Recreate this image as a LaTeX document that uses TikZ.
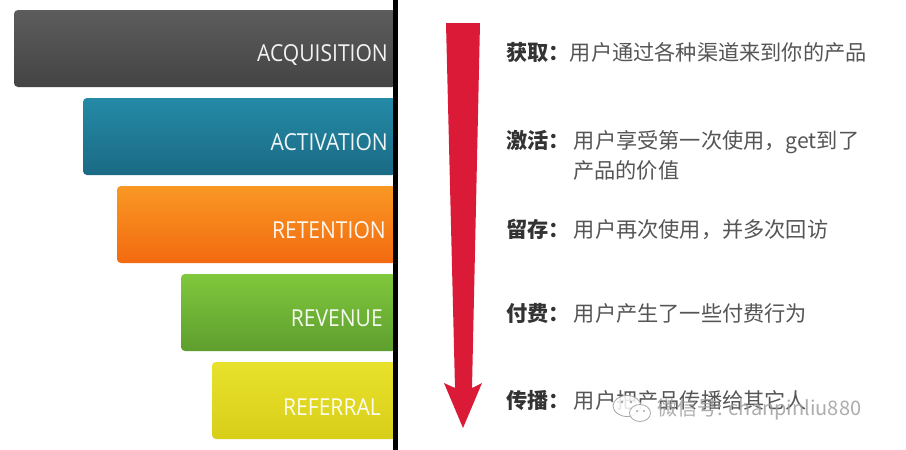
\documentclass[tikz,border=0pt]{standalone}
\usepackage{fontspec}
\setmainfont{Open Sans}
\newfontfamily\barfont{Open Sans}[FakeStretch=0.9]
\newfontfamily\cjk{Noto Sans CJK SC}
\definecolor{labelc}{HTML}{333333}
\definecolor{bodyc}{HTML}{555555}
\definecolor{arrowred}{HTML}{DA1A36}
\tikzset{
  barbox/.style={rounded corners=4pt},
  bartext/.style={anchor=base east, inner sep=0pt, text=white, text opacity=0.93,
    font=\barfont\fontsize{23.4}{26}\selectfont},
  rowtext/.style={anchor=base west, inner sep=0pt, align=left,
    font=\cjk\fontsize{21.2}{30}\selectfont, text=bodyc},
}
\newcommand{\lab}[1]{{\bfseries\color{labelc}#1}}
\begin{document}
\begin{tikzpicture}[x=1pt,y=-1pt]
\useasboundingbox (0,0) rectangle (906,450);
\fill[white] (0,0) rectangle (906,450);
% funnel bars
\shade[barbox, top color={rgb,255:red,92;green,92;blue,92}, bottom color={rgb,255:red,68;green,68;blue,68}]
  (14,10) rectangle (396,87);
\shade[barbox, top color={rgb,255:red,36;green,138;blue,166}, bottom color={rgb,255:red,27;green,106;blue,132}]
  (83,98) rectangle (396,175);
\shade[barbox, top color={rgb,255:red,249;green,152;blue,36}, bottom color={rgb,255:red,243;green,106;blue,16}]
  (117,186) rectangle (396,263);
\shade[barbox, top color={rgb,255:red,128;green,200;blue,60}, bottom color={rgb,255:red,94;green,158;blue,46}]
  (181,274) rectangle (396,351);
\shade[barbox, top color={rgb,255:red,232;green,226;blue,44}, bottom color={rgb,255:red,216;green,206;blue,26}]
  (212,362) rectangle (396,439);
\node[bartext] (acq) at (388,61.5) {ACQUISITION};
\node[bartext] (act) at (388,150) {ACTIVATION};
\node[bartext] (ret) at (386,238) {RETENTION};
\node[bartext] (rev) at (383,326) {REVENUE};
\node[bartext] (ref) at (381,415) {REFERRAL};
% divider
\fill[black] (393,0) rectangle (398,450);
% red arrow
\fill[arrowred] (446,23) -- (480,23) -- (472,388) -- (482,383) -- (463,428)
  -- (444,383) -- (455,388) -- cycle;
% rows
\node[rowtext] (r1) at (506,60) {\lab{获取：}用户通过各种渠道来到你的产品};
\node[rowtext] (r2) at (506,148) {\lab{激活：}\hspace{4pt}用户享受第一次使用，get到了};
\node[rowtext] (r2b) at (573,178) {产品的价值};
\node[rowtext] (r3) at (506,237) {\lab{留存：}\hspace{4pt}用户再次使用，并多次回访};
\node[rowtext] (r4) at (506,321) {\lab{付费：}\hspace{4pt}用户产生了一些付费行为};
\node[rowtext] (r5) at (506,408) {\lab{传播：}\hspace{4pt}用户把产品传播给其它人};
% watermark
\begin{scope}[draw=gray!70, line width=0.8pt, fill=white, fill opacity=0.85]
\filldraw (627,406) ellipse [x radius=14, y radius=10.5];
\filldraw (640,413) ellipse [x radius=10.5, y radius=8.5];
\end{scope}
\fill[gray!70] (622,402) circle (1.4) (631,402) circle (1.4) (637,411) circle (1.1) (644,411) circle (1.1);
\node[anchor=base west, inner sep=0pt, text=gray!75, text opacity=0.85,
  font=\cjk\fontsize{20}{24}\selectfont] (wm) at (657,415) {微信号: chanpinliu880};
\end{tikzpicture}
\end{document}
